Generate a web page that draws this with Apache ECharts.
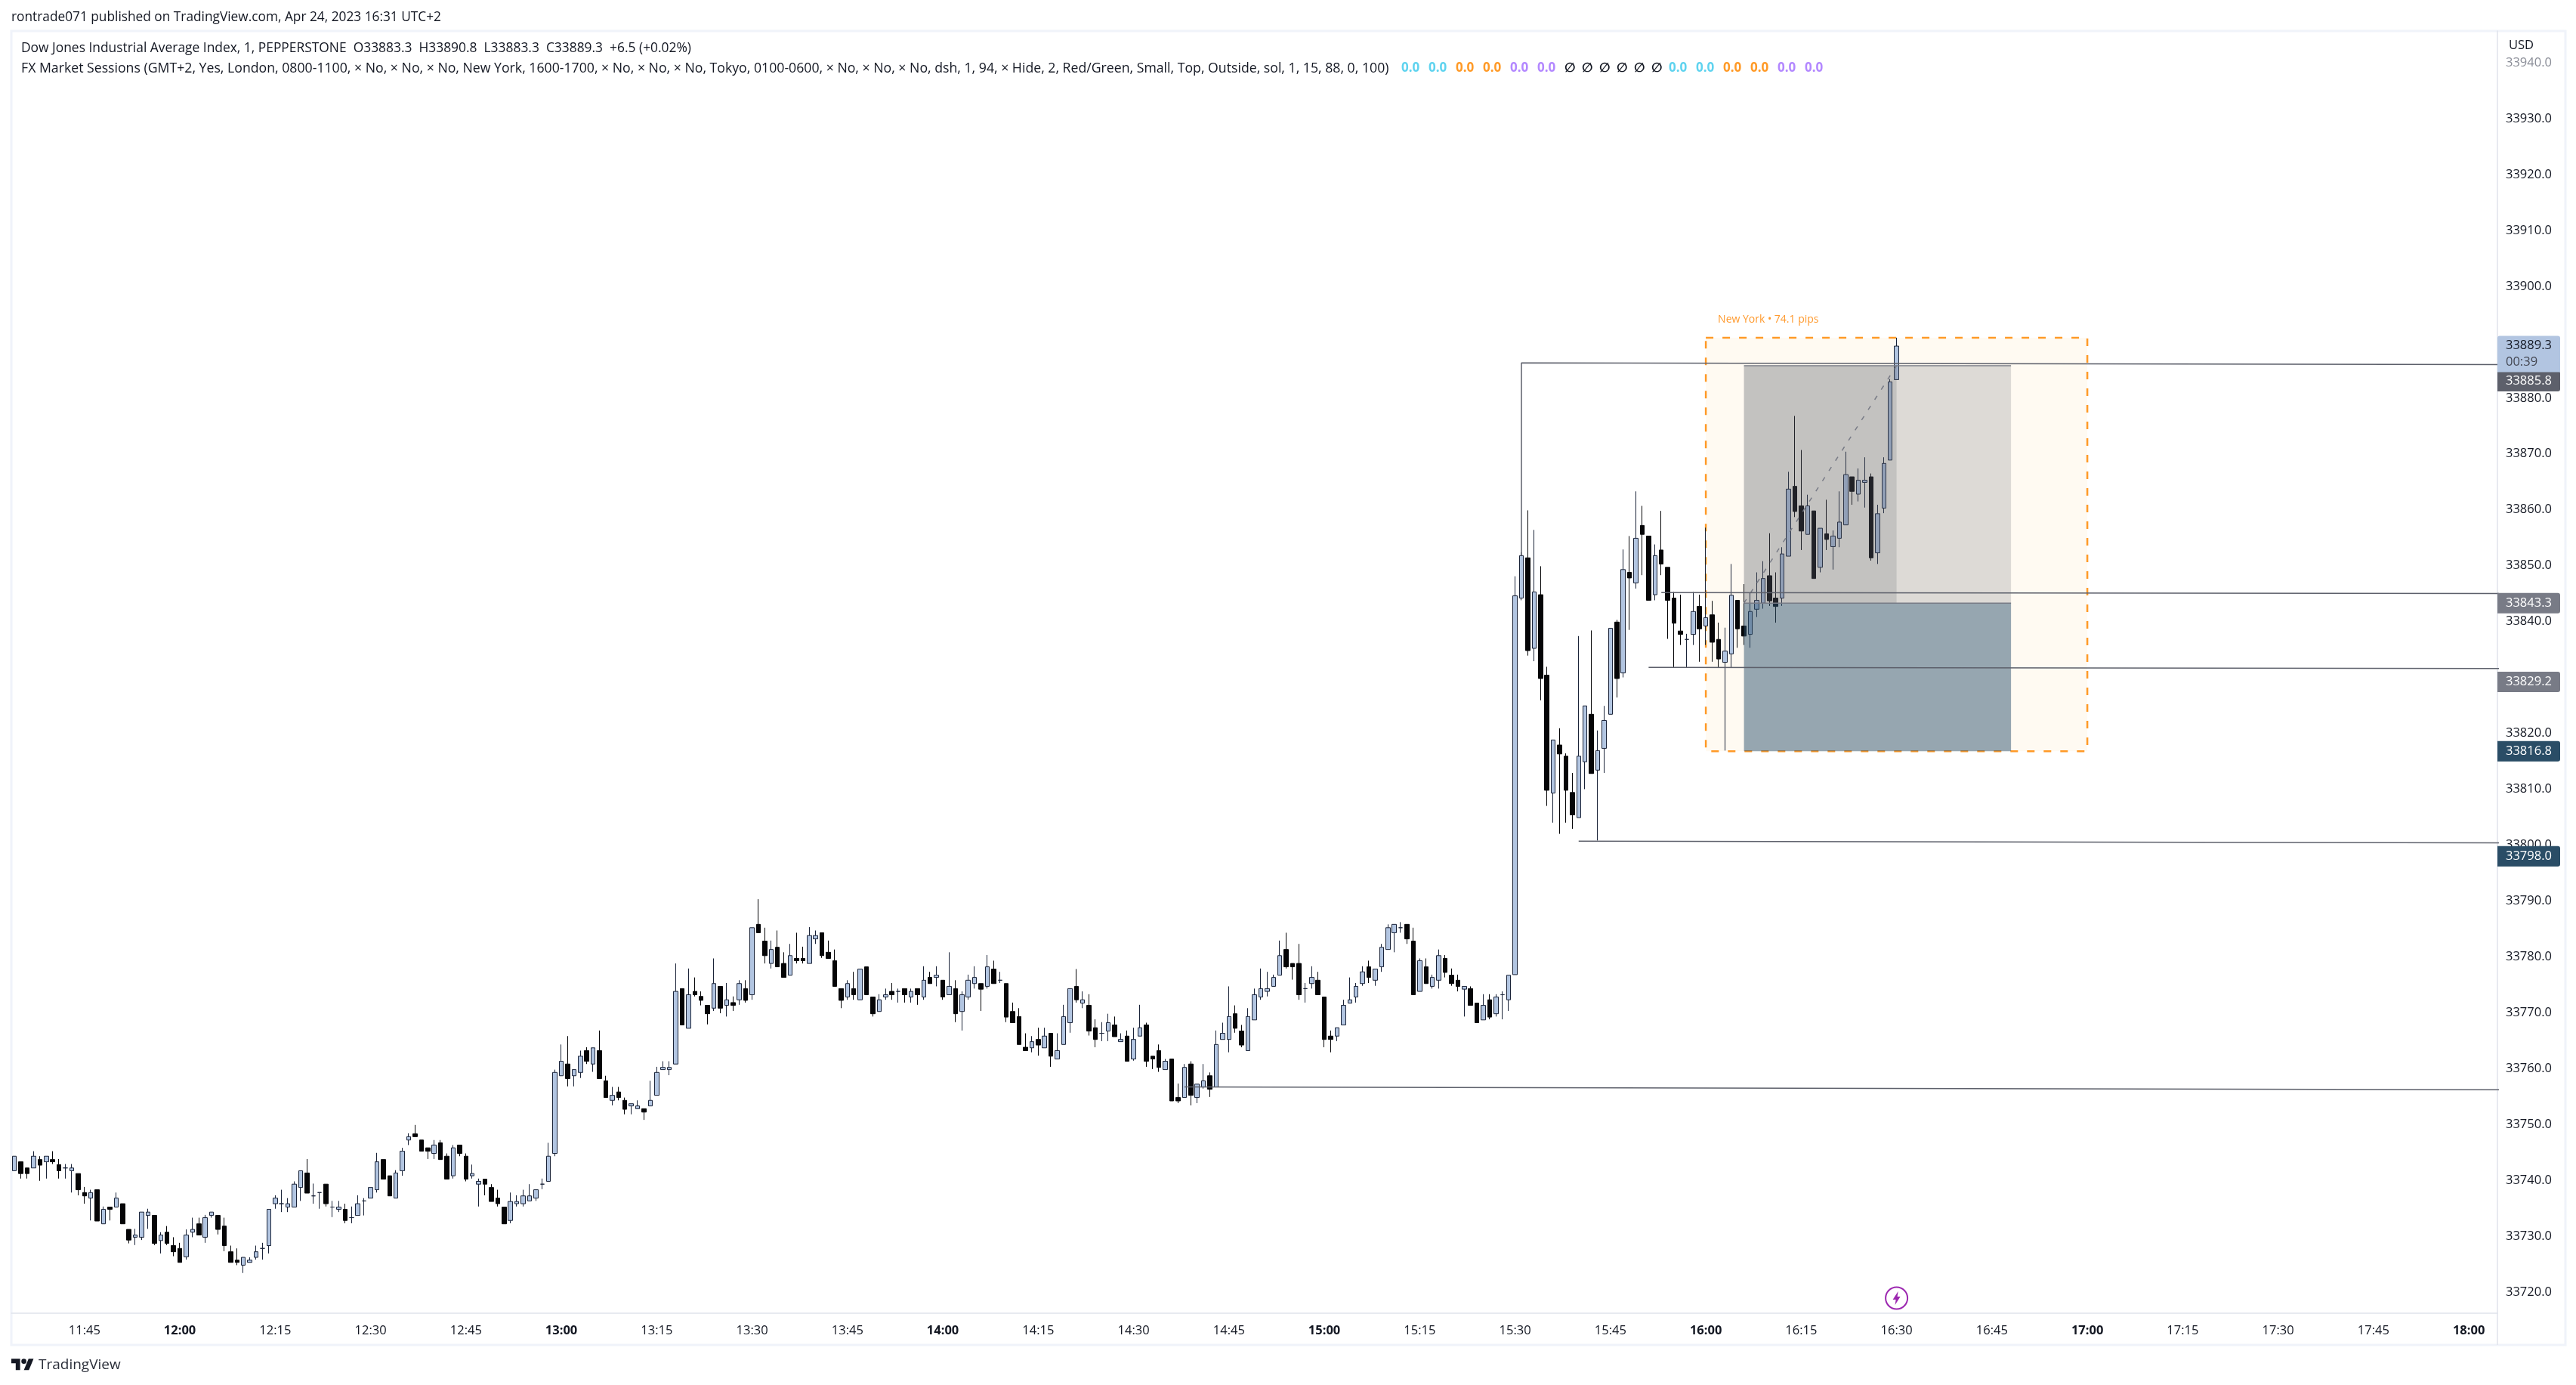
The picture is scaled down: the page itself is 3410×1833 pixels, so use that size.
<!DOCTYPE html>
<html>
<head>
<meta charset="utf-8">
<title>Dow Jones 1m</title>
<script src="https://cdn.jsdelivr.net/npm/echarts@6/dist/echarts.min.js"></script>
<style>
html, body { margin: 0; padding: 0; background: #fff; }
#chart { width: 3410px; height: 1833px; }
</style>
</head>
<body>
<div id="chart"></div>
<script>
// one candle per minute from 11:34 to 16:30
const opens = [
33741.7,33743.3,33742.2,33742.2,33743.7,33743.3,33743.7,33742.8,33742.2,33741.7,33741.2,33737.8,33736.8,33738.3,33732.2,33735.2,33735.2,33735.8,33731.2,33729.8,
33729.8,33733.7,33733.7,33729.2,33730.7,33728.3,33727.8,33726.3,33730.7,33732.2,33729.8,33733.7,33733.7,33731.8,33727.2,33725.7,33724.8,33725.3,33726.2,33727.8,
33728.3,33735.8,33735.8,33735.2,33735.2,33738.7,33741.3,33737.2,33737.8,33739.3,33735.2,33734.8,33734.8,33733.3,33733.7,33736.3,33736.8,33738.3,33743.7,33740.8,
33736.8,33741.7,33747.2,33748.3,33747.2,33745.8,33744.8,33746.7,33744.3,33740.8,33746.3,33744.3,33740.8,33739.3,33740.2,33738.7,33736.8,33735.2,33732.8,33735.8,
33735.8,33736.3,33736.8,33739.3,33739.8,33744.8,33758.7,33760.8,33758.7,33759.3,33763.2,33760.8,33763.2,33757.8,33754.3,33755.8,33754.3,33753.3,33752.8,33752.8,
33753.3,33755.2,33759.8,33759.8,33760.8,33774.3,33767.2,33773.8,33772.9,33771.3,33770.8,33774.7,33771.3,33771.8,33772.3,33774.3,33773.2,33785.8,33782.8,33778.8,
33781.7,33778.8,33776.7,33779.7,33779.7,33778.8,33783.2,33784.3,33780.8,33779.3,33774.3,33772.8,33774.3,33772.3,33778.2,33772.8,33770.2,33772.8,33773.8,33773.8,
33774.3,33772.8,33774.3,33772.8,33776.3,33776.3,33775.8,33773.2,33774.3,33770.2,33772.8,33775.2,33775.2,33774.7,33777.8,33775.8,33775.2,33770.2,33769.3,33763.8,
33763.7,33765.2,33763.7,33766.3,33761.7,33764.3,33768.2,33774.7,33771.7,33771.3,33767.3,33766.3,33766.7,33767.8,33764.8,33765.8,33761.7,33765.8,33767.8,33762.2,
33763.2,33759.8,33761.7,33754.8,33754.8,33760.8,33754.8,33756.7,33758.7,33756.7,33765.2,33765.2,33769.8,33766.7,33763.2,33768.7,33772.8,33773.8,33774.7,33776.7,
33781.3,33778.8,33778.8,33774.3,33775.2,33775.8,33772.8,33765.8,33765.8,33767.8,33771.7,33772.8,33775.2,33778.2,33775.8,33778.2,33781.3,33784.3,33785.2,33785.8,
33782.8,33773.8,33778.2,33774.7,33775.8,33779.7,33776.7,33775.8,33774.2,33774.3,33771.7,33768.7,33772.3,33769.8,33773.2,33772.3,33776.8,33844.2,33851.4,33835.2,
33844.8,33830.4,33809.3,33817.9,33815.9,33809.4,33804.9,33814.9,33823.4,33813.4,33817.3,33823.4,33839.9,33830.8,33848.8,33846.9,33857.2,33855.3,33844.8,33852.8,
33849.7,33844.2,33838.3,33836.8,33837.7,33842.7,33839.2,33841.2,33836.8,33832.7,33834.2,33843.8,33839.2,33837.7,33842.2,33843.3,33848.2,33844.2,33844.2,33851.7,
33864.2,33860.7,33855.6,33859.8,33849.7,33855.7,33853.4,33854.9,33857.3,33865.9,33862.8,33864.9,33865.9,33852.3,33860.3,33868.9,33883.3
];
const highs = [
33744.3,33743.3,33742.2,33745.2,33744.3,33744.3,33745.2,33743.8,33742.9,33742.9,33741.2,33738.8,33738.3,33738.3,33735.3,33735.2,33737.8,33735.8,33731.2,33731.3,
33734.3,33734.9,33733.7,33730.7,33731.8,33729.8,33728.8,33731.2,33733.3,33733.3,33733.8,33734.3,33733.7,33733.3,33728.3,33727.8,33726.2,33726.2,33728.3,33728.8,
33734.8,33737.3,33738.3,33736.8,33739.8,33741.7,33743.8,33739.4,33737.8,33739.3,33736.3,33736.3,33735.8,33735.3,33737.3,33736.8,33738.7,33744.9,33743.7,33740.8,
33741.8,33745.8,33748.4,33749.9,33747.2,33745.8,33747.2,33747.2,33744.8,33746.3,33746.3,33744.8,33742.8,33740.3,33740.2,33739.3,33738.3,33735.2,33737.8,33737.3,
33738.3,33739.3,33738.3,33740.3,33746.7,33759.8,33764.3,33765.8,33759.8,33763.2,33763.8,33763.7,33766.8,33758.7,33756.7,33756.7,33754.8,33753.7,33754.3,33752.8,
33757.8,33760.3,33761.3,33761.3,33778.8,33774.3,33777.9,33776.3,33773.8,33771.3,33779.7,33774.7,33775.3,33772.9,33775.8,33775.8,33785.2,33790.3,33785.2,33782.9,
33784.7,33780.8,33782.3,33784.3,33781.8,33785.3,33784.7,33784.3,33782.9,33781.3,33774.3,33775.8,33777.3,33777.8,33778.2,33772.8,33773.3,33774.3,33775.3,33774.3,
33774.3,33774.3,33774.3,33778.3,33777.3,33778.3,33775.8,33780.8,33775.8,33773.8,33776.8,33778.3,33775.2,33780.3,33779.3,33777.3,33775.2,33771.8,33770.8,33766.3,
33765.8,33767.3,33767.3,33766.3,33766.3,33771.4,33774.3,33777.8,33773.8,33773.3,33768.8,33768.3,33769.8,33769.3,33766.3,33766.8,33767.3,33771.4,33768.2,33762.2,
33764.3,33761.7,33761.7,33757.3,33760.8,33761.3,33757.2,33760.8,33759.3,33766.8,33768.2,33774.7,33771.3,33767.8,33770.8,33774.3,33777.9,33777.3,33776.8,33782.9,
33784.3,33778.8,33782.3,33775.3,33778.3,33777.3,33772.8,33766.8,33767.3,33772.3,33776.3,33775.3,33778.3,33779.3,33777.8,33782.3,33785.8,33785.8,33786.2,33785.8,
33785.2,33779.7,33779.7,33776.8,33781.3,33780.3,33777.9,33776.8,33774.7,33774.7,33771.7,33773.3,33773.3,33773.3,33773.8,33776.7,33848.1,33852.4,33859.9,33856.4,
33849.9,33831.9,33818.8,33820.9,33816.4,33812.9,33837.4,33824.9,33838.4,33820.5,33824.9,33838.8,33840.3,33852.9,33855.3,33863.3,33860.7,33855.3,33853.8,33859.8,
33849.7,33845.3,33844.8,33837.8,33845.3,33844.8,33856.8,33843.7,33839.8,33838.9,33850.3,33843.8,33846.7,33845.2,33848.8,33850.8,33855.8,33848.8,33853.3,33866.8,
33876.8,33870.7,33862.7,33859.8,33856.7,33861.8,33856.3,33863.3,33870.4,33865.9,33867.4,33869.4,33866.5,33860.9,33869.4,33883.4,33890.8
];
const lows = [
33741.7,33740.3,33740.3,33742.2,33739.9,33740.3,33742.9,33740.3,33740.3,33737.8,33737.3,33735.8,33732.8,33732.7,33732.2,33732.8,33735.2,33732.2,33728.7,33728.4,
33729.3,33731.3,33728.4,33726.9,33728.4,33726.4,33725.3,33725.8,33729.8,33730.2,33728.8,33733.3,33730.3,33727.3,33725.3,33724.8,33723.4,33725.3,33725.8,33725.8,
33726.9,33734.9,33734.3,33734.3,33735.2,33736.3,33737.7,33735.8,33734.9,33735.3,33733.4,33734.3,33732.3,33732.3,33733.7,33733.7,33736.8,33737.8,33740.2,33737.2,
33736.8,33740.8,33746.3,33747.8,33745.2,33743.8,33743.8,33743.7,33740.2,33740.3,33744.3,33739.8,33740.3,33735.3,33737.3,33736.2,33735.3,33732.2,33732.3,33735.3,
33735.3,33736.3,33736.3,33738.4,33739.8,33744.3,33758.7,33756.8,33756.8,33758.3,33760.8,33759.4,33758.2,33754.8,33753.4,33754.3,33751.8,33751.8,33752.8,33750.8,
33753.3,33755.2,33759.8,33758.8,33760.8,33767.8,33767.2,33772.9,33771.3,33767.9,33770.3,33769.9,33769.3,33770.3,33771.4,33771.8,33772.3,33784.3,33778.8,33777.9,
33778.2,33776.3,33776.7,33778.8,33778.8,33778.8,33782.3,33779.8,33779.7,33774.7,33770.8,33772.3,33772.3,33772.3,33773.2,33769.3,33770.2,33772.3,33772.3,33771.8,
33771.8,33771.8,33771.4,33772.3,33775.2,33774.7,33772.3,33773.2,33768.3,33766.8,33772.3,33774.3,33770.3,33774.3,33775.2,33775.3,33768.3,33768.2,33764.3,33763.2,
33762.9,33762.3,33763.7,33760.3,33761.7,33764.3,33766.4,33771.8,33770.8,33765.9,33763.8,33764.9,33764.9,33765.7,33764.8,33761.3,33761.4,33765.8,33760.3,33759.9,
33759.4,33759.8,33754.2,33753.8,33754.8,33753.4,33753.8,33756.4,33754.9,33756.7,33765.2,33762.9,33766.4,33763.8,33763.2,33768.7,33772.3,33772.9,33774.7,33776.7,
33777.9,33775.9,33772.3,33771.8,33774.3,33773.2,33763.8,33762.9,33764.9,33767.8,33771.7,33771.8,33774.8,33775.3,33774.8,33777.3,33781.3,33780.8,33784.3,33782.3,
33773.2,33773.8,33775.2,33774.3,33774.3,33776.3,33774.8,33773.8,33769.3,33771.3,33768.2,33768.7,33768.8,33769.3,33768.8,33770.3,33776.8,33843.8,33833.9,33832.9,
33825.9,33807.0,33804.0,33802.0,33804.0,33802.9,33804.9,33810.0,33812.8,33800.8,33812.9,33823.4,33826.4,33830.0,33838.5,33845.9,33848.3,33843.8,33843.8,33848.3,
33836.9,33831.8,33835.8,33831.8,33835.8,33832.8,33835.8,33832.8,33831.8,33816.9,33831.8,33835.3,33835.8,33835.3,33840.8,33842.3,33842.8,33839.8,33842.8,33851.7,
33858.7,33852.8,33855.6,33847.7,33848.8,33852.8,33849.3,33853.3,33857.3,33860.9,33861.5,33860.4,33850.9,33850.3,33859.4,33868.9,33883.3
];
const closes = [
33744.3,33741.2,33741.2,33744.3,33742.7,33744.3,33743.3,33741.7,33742.2,33742.2,33738.3,33737.2,33737.8,33732.7,33734.8,33734.8,33736.8,33732.2,33729.3,33730.2,
33734.3,33734.3,33728.7,33730.2,33728.7,33727.2,33725.3,33730.2,33731.2,33730.2,33733.3,33734.3,33731.2,33728.3,33725.3,33725.3,33726.2,33725.7,33727.2,33727.8,
33734.8,33736.8,33735.8,33735.8,33739.3,33741.7,33737.7,33737.2,33737.8,33735.8,33735.2,33735.2,33732.8,33733.3,33735.8,33736.3,33738.7,33743.3,33740.2,33737.2,
33741.3,33745.2,33747.8,33747.8,33745.2,33745.2,33746.3,33743.7,33740.2,33745.8,33744.8,33740.2,33741.2,33739.8,33739.3,33736.2,33735.8,33732.2,33736.2,33736.2,
33737.2,33737.2,33738.3,33739.3,33744.3,33759.3,33761.3,33758.2,33759.8,33762.2,33761.3,33763.7,33758.2,33754.8,33755.2,33754.8,33752.7,33753.7,33753.3,33752.2,
33754.3,33759.3,33760.2,33760.2,33773.8,33767.8,33773.2,33773.2,33772.2,33769.8,33775.2,33770.8,33772.3,33771.3,33775.2,33772.2,33785.2,33784.3,33780.2,33781.3,
33778.2,33776.3,33780.2,33779.3,33779.3,33783.8,33783.8,33780.2,33779.7,33774.7,33772.2,33775.2,33773.2,33777.8,33773.2,33769.8,33772.3,33773.2,33773.2,33773.8,
33773.2,33773.8,33773.2,33775.8,33775.2,33776.7,33772.8,33774.7,33769.8,33773.2,33775.8,33776.3,33774.2,33778.2,33775.2,33775.8,33769.2,33768.2,33764.3,33763.2,
33764.8,33764.2,33765.8,33762.2,33763.2,33769.3,33774.3,33772.3,33772.3,33766.7,33765.2,33766.3,33768.2,33765.7,33765.2,33761.3,33765.2,33767.3,33761.3,33761.7,
33760.2,33761.3,33754.2,33754.2,33760.2,33755.2,33757.2,33757.8,33756.3,33764.3,33766.3,33769.3,33767.2,33764.2,33769.3,33773.2,33774.3,33774.3,33776.3,33780.2,
33778.2,33778.2,33773.2,33774.3,33776.3,33773.2,33765.2,33765.2,33767.3,33771.3,33772.3,33774.7,33777.3,33776.3,33777.8,33781.7,33785.2,33785.8,33785.2,33783.2,
33773.2,33779.3,33775.2,33776.3,33780.2,33777.2,33775.2,33774.7,33774.7,33771.3,33768.2,33771.3,33769.2,33772.8,33773.2,33776.7,33844.6,33851.8,33834.8,33845.3,
33829.8,33809.8,33818.8,33816.3,33809.8,33805.4,33815.9,33824.9,33812.8,33816.9,33822.3,33838.8,33829.8,33849.3,33847.8,33854.9,33855.6,33843.8,33851.8,33850.3,
33843.8,33839.7,33837.7,33836.8,33841.8,33838.7,33840.7,33836.3,33833.3,33834.7,33844.7,33838.7,33837.4,33841.8,33843.8,33847.7,33843.7,33842.7,33852.1,33863.7,
33859.7,33856.2,33860.7,33847.7,33856.7,33854.7,33855.3,33857.8,33866.3,33863.3,33865.3,33865.3,33851.4,33859.3,33868.3,33882.9,33889.3
];

const firstMinute = 11 * 60 + 34;
const lastMinute = 18 * 60 + 5;
const categories = [];
for (let m = firstMinute; m <= lastMinute; m++) {
	categories.push(String(Math.floor(m / 60)).padStart(2, '0') + ':' + String(m % 60).padStart(2, '0'));
}
const at = (label) => categories.indexOf(label);

const timeTicks = ['11:45','12:00','12:15','12:30','12:45','13:00','13:15','13:30','13:45','14:00','14:15','14:30','14:45','15:00','15:15','15:30','15:45','16:00','16:15','16:30','16:45','17:00','17:15','17:30','17:45','18:00'];
const priceTicks = [33720,33730,33740,33750,33760,33770,33780,33790,33800,33810,33820,33830,33840,33850,33860,33870,33880,33890,33900,33910,33920,33930,33940];

// drawn levels: [from, to, top price, bottom price]
const sessionBox = [at('16:00'), at('17:00'), 33890.8, 33816.8];
const stopBox = [at('16:06'), at('16:48'), 33843.3, 33816.8];
const targetBox = [at('16:06'), at('16:48'), 33885.8, 33843.3];
const elapsedBox = [at('16:06'), at('16:30'), 33885.8, 33843.3];

const rangeLines = [
	[[at('15:31'), 33851.8], [at('15:31'), 33886.3], [at('18:05'), 33886.0]],
	[[at('15:53'), 33845.2], [at('18:05'), 33845.0]],
	[[at('15:51'), 33831.8], [at('18:05'), 33831.6]],
	[[at('15:40'), 33800.7], [at('18:05'), 33800.4]],
	[[at('14:38'), 33756.7], [at('18:05'), 33756.2]]
];
const boxEdges = [
	[[at('16:06'), 33885.8], [at('16:48'), 33885.8]],
	[[at('16:06'), 33843.3], [at('16:48'), 33843.3]]
];
const entryPath = [[at('16:06'), 33843.3], [at('16:30'), 33885.8]];

const tagTexts = ['33885.8', '33843.3', '33829.2', '33816.8', '33798.0'];
const tagLevels = [33883.0, 33843.3, 33829.2, 33816.8, 33798.0];
const tagFills = ['#5d606b', '#787b86', '#787b86', '#2a4d66', '#2a4d66'];
const lastPriceTag = [33887.9, '33889.3', '00:39'];

const FONT = '"Open Sans", "DejaVu Sans", sans-serif';
const chips = (name, n) => Array(n).fill('{' + name + '|0.0}').join('');

const boxItem = (style) => (params, api) => {
	const a = api.coord([api.value(0), api.value(2)]);
	const b = api.coord([api.value(1), api.value(3)]);
	return {
		type: 'rect',
		shape: { x: a[0], y: a[1], width: b[0] - a[0], height: b[1] - a[1] },
		style: style
	};
};

const boxSeries = (box, style, z) => ({
	type: 'custom',
	z: z,
	silent: true,
	encode: { x: [0, 1], y: [2, 3] },
	renderItem: boxItem(style),
	data: [box]
});

const lineSeries = (points, color, width, z, dash) => ({
	type: 'line',
	z: z,
	silent: true,
	symbol: 'none',
	lineStyle: { color: color, width: width, type: dash || 'solid' },
	data: points
});

let chart = echarts.init(document.getElementById('chart'));

let option = {
	animation: false,
	backgroundColor: '#ffffff',
	title: [{
		text: 'rontrade071 published on TradingView.com, Apr 24, 2023 16:31 UTC+2',
		left: 15, top: 15, padding: 0,
		textStyle: { fontFamily: FONT, fontSize: 17.3, fontWeight: 400, color: '#131722' }
	}, {
		text: 'Dow Jones Industrial Average Index, 1, PEPPERSTONE  O33883.3  H33890.8  L33883.3  C33889.3  +6.5 (+0.02%)',
		left: 28, top: 56, padding: 0,
		textStyle: { fontFamily: FONT, fontSize: 17.4, fontWeight: 400, color: '#131722' }
	}, {
		text: 'FX Market Sessions (GMT+2, Yes, London, 0800-1100, × No, × No, × No, New York, 1600-1700, × No, × No, × No, Tokyo, 0100-0600, × No, × No, × No, dsh, 1, 94, × Hide, 2, Red/Green, Small, Top, Outside, sol, 1, 15, 88, 0, 100)',
		left: 28, top: 82, padding: 0,
		textStyle: { fontFamily: FONT, fontSize: 17.7, fontWeight: 400, color: '#131722' }
	}, {
		text: chips('c', 2) + chips('o', 2) + chips('p', 2) + '{n|∅}{n|∅}{n|∅}{n|∅}{n|∅}{n|∅}' + chips('c', 2) + chips('o', 2) + chips('p', 2),
		left: 1855, top: 82, padding: 0,
		textStyle: {
			fontFamily: FONT, fontSize: 17,
			rich: {
				c: { color: '#5fd3ef', width: 36, fontFamily: FONT, fontSize: 17 },
				o: { color: '#ff9a27', width: 36, fontFamily: FONT, fontSize: 17 },
				p: { color: '#b388ff', width: 36, fontFamily: FONT, fontSize: 17 },
				n: { color: '#131722', width: 23, fontFamily: FONT, fontSize: 17 }
			}
		}
	}, {
		text: 'USD',
		left: 3321, top: 52, padding: 0,
		textStyle: { fontFamily: FONT, fontSize: 16.5, fontWeight: 400, color: '#131722' }
	}, {
		text: 'TradingView',
		left: 51, top: 1797, padding: 0,
		textStyle: { fontFamily: FONT, fontSize: 19, fontWeight: 400, color: '#2a2e39' }
	}],
	grid: { left: 15, top: 41, width: 3291, height: 1697, containLabel: false },
	xAxis: {
		type: 'category',
		data: categories,
		max: at('18:04'),
		boundaryGap: true,
		axisLine: { show: true, lineStyle: { color: '#e0e3eb', width: 1.5 } },
		axisTick: { show: false },
		splitLine: { show: false },
		axisLabel: {
			interval: (i, v) => timeTicks.includes(v),
			margin: 15,
			hideOverlap: false,
			color: '#131722',
			fontFamily: FONT,
			fontSize: 16.5,
			formatter: (v) => v.endsWith(':00') ? '{b|' + v + '}' : v,
			rich: { b: { fontWeight: 700, fontFamily: FONT, fontSize: 16.5, color: '#131722' } }
		}
	},
	yAxis: {
		type: 'value',
		position: 'right',
		min: 33716.2,
		max: 33945.7,
		axisLine: { show: true, lineStyle: { color: '#e0e3eb', width: 1.5 } },
		axisTick: { show: false },
		splitLine: { show: false },
		axisLabel: {
			customValues: priceTicks,
			margin: 11,
			align: 'left',
			color: (v) => Number(v) === 33940 ? '#8a8d97' : '#131722',
			fontFamily: FONT,
			fontSize: 16.5,
			formatter: (v) => Number(v).toFixed(1)
		}
	},
	graphic: [{
		type: 'rect',
		silent: true,
		z: -1,
		shape: { x: 15, y: 41, width: 3381, height: 1739 },
		style: { fill: null, stroke: '#f0f3fa', lineWidth: 3 }
	}, {
		type: 'line',
		silent: true,
		shape: { x1: 3306, y1: 1738, x2: 3306, y2: 1780 },
		style: { stroke: '#e0e3eb', lineWidth: 1.5 }
	}, {
		// TradingView mark
		type: 'group',
		silent: true,
		x: 15, y: 1795,
		scaleX: 0.83, scaleY: 0.83,
		children: [{
			type: 'polygon',
			shape: { points: [[14, 22], [7, 22], [7, 11], [0, 11], [0, 4], [14, 4]] },
			style: { fill: '#131722' }
		}, {
			type: 'polygon',
			shape: { points: [[28, 22], [20, 22], [27.5, 4], [35.5, 4]] },
			style: { fill: '#131722' }
		}, {
			type: 'circle',
			shape: { cx: 20, cy: 8, r: 4 },
			style: { fill: '#131722' }
		}]
	}],
	series: [
		{
			type: 'custom',
			z: 1,
			silent: true,
			encode: { x: [0, 1], y: [2, 3] },
			renderItem: (params, api) => {
				const a = api.coord([api.value(0), api.value(2)]);
				const b = api.coord([api.value(1), api.value(3)]);
				return {
					type: 'group',
					children: [{
						type: 'rect',
						shape: { x: a[0], y: a[1], width: b[0] - a[0], height: b[1] - a[1] },
						style: { fill: 'rgba(255,152,0,0.05)', stroke: '#ff9a27', lineWidth: 2.5, lineDash: [10, 12] }
					}, {
						type: 'text',
						x: a[0] + 16, y: a[1] - 24,
						style: { text: 'New York • 74.1 pips', fill: '#ff9a2e', font: '14px ' + FONT, textAlign: 'left', textVerticalAlign: 'middle' }
					}]
				};
			},
			data: [sessionBox]
		},
		{
			type: 'candlestick',
			z: 3,
			silent: true,
			barWidth: 6,
			itemStyle: {
				color: '#b2c5e1',
				color0: '#050507',
				borderColor: '#1a2338',
				borderColor0: '#050507',
				borderColorDoji: '#1a2338',
				borderWidth: 1
			},
			data: opens.map((o, i) => [o, closes[i], lows[i], highs[i]])
		},
		boxSeries(targetBox, { fill: 'rgba(85,91,107,0.2)' }, 4),
		boxSeries(elapsedBox, { fill: 'rgba(85,92,100,0.19)' }, 4),
		boxSeries(stopBox, { fill: 'rgba(46,82,110,0.5)' }, 4),
		lineSeries(entryPath, '#787b86', 1.5, 5, [6, 10]),
		...rangeLines.map((l) => lineSeries(l, '#5d606b', 1.5, 5)),
		...boxEdges.map((l) => lineSeries(l, '#787b86', 1.5, 5)),
		{
			// price tags on the axis
			type: 'custom',
			z: 10,
			silent: true,
			encode: { y: 1 },
			renderItem: (params, api) => {
				const y = api.coord([0, api.value(1)])[1];
				const x = params.coordSys.x + params.coordSys.width;
				return {
					type: 'group',
					children: [{
						type: 'rect',
						shape: { x: x, y: y - 13.5, width: 83, height: 27, r: [0, 3, 3, 0] },
						style: { fill: tagFills[params.dataIndex] }
					}, {
						type: 'text',
						x: x + 11, y: y,
						style: { text: tagTexts[params.dataIndex], fill: '#ffffff', font: '16.5px ' + FONT, textAlign: 'left', textVerticalAlign: 'middle' }
					}]
				};
			},
			data: tagLevels.map((p) => [0, p])
		},
		{
			// last price with countdown
			type: 'custom',
			z: 11,
			silent: true,
			encode: { y: 1 },
			renderItem: (params, api) => {
				const y = api.coord([0, api.value(1)])[1];
				const x = params.coordSys.x + params.coordSys.width;
				return {
					type: 'group',
					children: [{
						type: 'rect',
						shape: { x: x, y: y - 24, width: 83, height: 48, r: [3, 3, 0, 0] },
						style: { fill: '#b2c5e1' }
					}, {
						type: 'text',
						x: x + 11, y: y - 11,
						style: { text: lastPriceTag[1], fill: '#131722', font: '16.5px ' + FONT, textAlign: 'left', textVerticalAlign: 'middle' }
					}, {
						type: 'text',
						x: x + 11, y: y + 11,
						style: { text: lastPriceTag[2], fill: '#434651', font: '16.5px ' + FONT, textAlign: 'left', textVerticalAlign: 'middle' }
					}]
				};
			},
			data: [[0, lastPriceTag[0]]]
		},
		{
			// session marker above the time axis
			type: 'custom',
			z: 6,
			silent: true,
			encode: { x: 0, y: 1 },
			renderItem: (params, api) => {
				const c = api.coord([api.value(0), api.value(1)]);
				return {
					type: 'group',
					x: c[0], y: c[1],
					children: [{
						type: 'circle',
						shape: { cx: 0, cy: 0, r: 14.5 },
						style: { fill: '#ffffff', stroke: '#9c27b0', lineWidth: 2 }
					}, {
						type: 'polygon',
						shape: { points: [[2, -9], [-5, 2], [-1, 2], [-2, 9], [5, -2], [1, -2]] },
						style: { fill: '#9c27b0' }
					}]
				};
			},
			data: [[at('16:30'), 33718.9]]
		}
	]
};

chart.setOption(option);
</script>
</body>
</html>
